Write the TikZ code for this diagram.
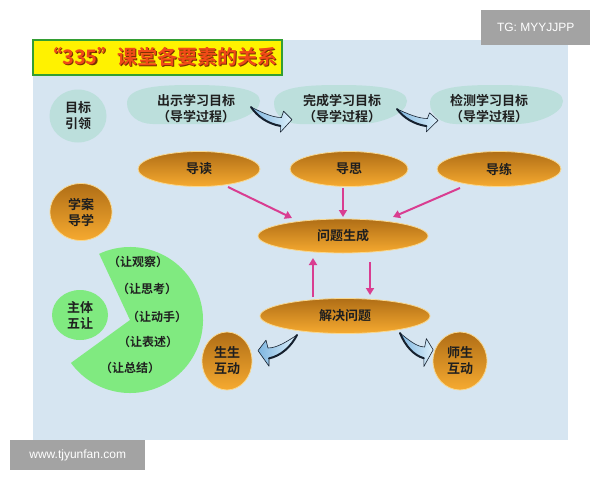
\documentclass[tikz,border=0pt]{standalone}
\usepackage{fontspec}
\usetikzlibrary{shapes.geometric,arrows.meta}
\newfontfamily\cjk{Noto Sans CJK SC}[BoldFont={Noto Sans CJK SC Bold}]
\newfontfamily\wmfont{Liberation Sans}
\definecolor{panel}{HTML}{D6E5F1}
\definecolor{teal}{HTML}{BCDFDC}
\definecolor{oTop}{HTML}{B06E16}
\definecolor{oBot}{HTML}{F6AA30}
\definecolor{oRim}{HTML}{F8D890}
\definecolor{pgreen}{HTML}{80EA80}
\definecolor{pink}{HTML}{D93D91}
\definecolor{arrL}{HTML}{7FB6E0}
\definecolor{arrR}{HTML}{DDF0FB}
\definecolor{arrD}{HTML}{15202E}
\definecolor{titleRed}{HTML}{F04A18}
\definecolor{titleShadow}{HTML}{7A3000}
\definecolor{wmgray}{HTML}{A3A3A3}
\begin{document}
\begin{tikzpicture}[x=1pt,y=-1pt,
  lbl/.style={font=\cjk\bfseries\fontsize{13}{16}\selectfont, text=black!88, align=center, inner sep=0},
  plbl/.style={font=\cjk\bfseries\fontsize{12}{14}\selectfont, text=black!88, inner sep=0},
  oell/.style={ellipse, top color=oTop, bottom color=oBot, draw=oRim, line width=0.8pt, inner sep=0, lbl},
  tcirc/.style={ellipse, fill=teal, inner sep=0, lbl},
  pinkarrow/.style={draw=pink, line width=2pt, -{Triangle[length=7pt,width=8pt]}},
  wm/.style={fill=wmgray, text=white, font=\wmfont\fontsize{12}{14}\selectfont, inner sep=0},
  swoosh/.pic={
    \shade[left color=arrL, right color=arrR]
      (0,0) .. controls (10,5) and (20,10) .. (29,10) -- (31,4) -- (39,12) -- (28,24) -- (28,18) .. controls (16,16) and (6,9) .. (0,0) -- cycle;
    \draw[arrD, line width=0.6pt, line join=round]
      (0,0) .. controls (10,5) and (20,10) .. (29,10) -- (31,4) -- (39,12) -- (28,24) -- (28,18) .. controls (16,16) and (6,9) .. (0,0) -- cycle;
    \draw[arrD, line width=2pt, line cap=round] (0,0) .. controls (6,9) and (16,16) .. (28,18);
  }
]
\useasboundingbox (0,0) rectangle (600,480);
\fill[white] (0,0) rectangle (600,480);
% panel
\fill[panel] (33,40) rectangle (568,440);
% title
\draw[fill=yellow, draw=black!30!green!60!gray, line width=1.2pt] (33,40) rectangle (282,75);
\node[font=\cjk\bfseries\fontsize{20}{22}\selectfont, text=titleShadow, inner sep=0] (titlesh) at (161.2,58.2) {“335”课堂各要素的关系};
\node[font=\cjk\bfseries\fontsize{20}{22}\selectfont, text=titleRed, inner sep=0] (title) at (160,57) {“335”课堂各要素的关系};
% watermarks
\node[wm, minimum width=109, minimum height=35, anchor=north west] (tg) at (481,10) {TG: MYYJJPP};
\node[wm, minimum width=135, minimum height=30, anchor=north west] (www) at (10,440) {www.tjyunfan.com};
% top row
\node[tcirc, minimum width=57, minimum height=53] (mubiao) at (78,116) {目标\\引领};
\foreach \cx in {193, 340, 496}{
  \fill[teal] (\cx-66,103) .. controls (\cx-66,86) and (\cx-30,85) .. (\cx,85)
     .. controls (\cx+35,85) and (\cx+67,88) .. (\cx+67,101)
     .. controls (\cx+67,114) and (\cx+40,124) .. (\cx+20,124) -- (\cx-40,124)
     .. controls (\cx-55,124) and (\cx-66,115) .. (\cx-66,103) -- cycle;
}
\node[lbl] (chushi) at (196,109) {出示学习目标\\（导学过程）};
\node[lbl] (wancheng) at (342,109) {完成学习目标\\（导学过程）};
\node[lbl] (jiance) at (489,109) {检测学习目标\\（导学过程）};
\pic[scale=1.05] at (251,107) {swoosh};
\pic[xscale=1.05, yscale=0.95] at (397,109) {swoosh};
% orange row
\node[oell, minimum width=122, minimum height=35] (dudu) at (199,169) {导读};
\node[oell, minimum width=118, minimum height=35] (dusi) at (349,169) {导思};
\node[oell, minimum width=124, minimum height=35] (dulian) at (499,169) {导练};
\node[oell, minimum width=170, minimum height=34] (wenti) at (343,236) {问题生成};
\node[oell, minimum width=170, minimum height=35] (jiejue) at (345,316) {解决问题};
\node[oell, minimum width=62, minimum height=57] (xuean) at (81,212) {学案\\导学};
\node[oell, minimum width=50, minimum height=58] (shengsheng) at (227,361) {生生\\互动};
\node[oell, minimum width=54, minimum height=58] (shisheng) at (460,361) {师生\\互动};
% pink arrows
\draw[pinkarrow] ([shift={(29,18)}]dudu.center) -- ([shift={(-51,-18)}]wenti.center);
\draw[pinkarrow] ([shift={(-6,19)}]dusi.center) -- ([shift={(0,-19)}]wenti.center);
\draw[pinkarrow] ([shift={(-39,19)}]dulian.center) -- ([shift={(50,-19)}]wenti.center);
\draw[pinkarrow] ([shift={(-32,-19)}]jiejue.center) -- ([shift={(-30,22)}]wenti.center);
\draw[pinkarrow] ([shift={(27,26)}]wenti.center) -- ([shift={(25,-21)}]jiejue.center);
% bottom swooshes
\pic[xscale=-1, yscale=1.3] at (297,335) {swoosh};
\pic[xscale=0.85, yscale=1.4] at (400,333) {swoosh};
% green pie
\fill[pgreen] (130,320) -- ++(-115:73) arc[start angle=-115, end angle=144, radius=73] -- cycle;
\node[ellipse, fill=pgreen, minimum width=56, minimum height=50, inner sep=0, lbl] (zhuti) at (80,315) {主体\\五让};
\node[plbl] (p1) at (138,262) {（让观察）};
\node[plbl] (p2) at (147,289) {（让思考）};
\node[plbl] (p3) at (157,317) {（让动手）};
\node[plbl] (p4) at (148,342) {（让表述）};
\node[plbl] (p5) at (130,368) {（让总结）};
\end{tikzpicture}
\end{document}
